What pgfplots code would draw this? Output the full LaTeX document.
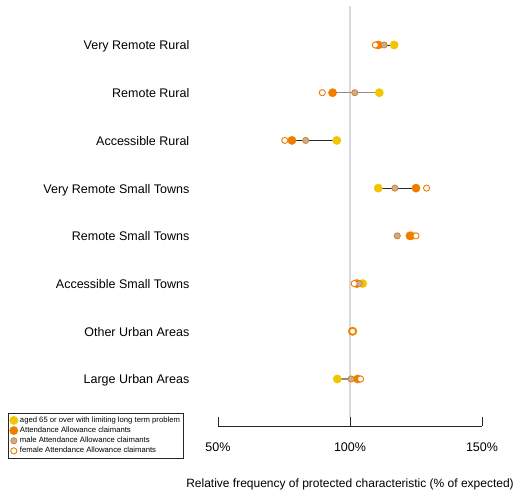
\documentclass[border=0pt]{standalone}
\usepackage{fontspec}
\setmainfont{Liberation Sans}
\usepackage{pgfplots}
\usepackage{pgfplotstable}
\pgfplotsset{compat=1.18}

\definecolor{cyellow}{HTML}{F2C500}
\definecolor{corange}{HTML}{F07D00}
\definecolor{cgray}{HTML}{B3B3B3}
\definecolor{refline}{HTML}{D9D9D9}

% row: 1 = Large Urban Areas ... 8 = Very Remote Rural
% yel = aged 65+ LLTP, ora = AA claimants, male / fem = AA claimants by sex
\pgfplotstableread{
row  yel    ora    male   fem
8    116.7  110.7  112.9  109.6
7    111.1  93.4   101.8  89.5
6    95.0   78.0   83.2   75.3
5    110.7  125.0  117.0  129.0
4    123.4  122.7  117.9  125.0
3    104.8  102.6  103.5  101.6
2    101.1  100.9  101.2  101.0
1    95.2   102.9  100.4  104.0
}\zones

\begin{document}
\begin{tikzpicture}
\useasboundingbox (0,0) rectangle (519bp,493bp);
\begin{axis}[
    at={(218bp,67bp)}, anchor=south west,
    scale only axis, width=264bp, height=420bp,
    xmin=50, xmax=150, ymin=0.015, ymax=8.817,
    axis x line*=bottom, axis y line*=left,
    y axis line style={draw=none},
    x axis line style={black!85, line width=0.8bp},
    font=\fontsize{12.5bp}{15bp}\selectfont,
    /pgf/number format/assume math mode=true,
    xtick={50,100,150}, xticklabels={50\%,100\%,150\%},
    tick align=inside, major tick length=9bp,
    xtick style={black!85, line width=0.8bp},
    ytick={1,...,8}, ytick style={draw=none},
    yticklabels={Large Urban Areas, Other Urban Areas, Accessible Small Towns,
        Remote Small Towns, Very Remote Small Towns, Accessible Rural,
        Remote Rural, Very Remote Rural},
    yticklabel style={inner sep=0pt, anchor=mid east, xshift=-28.5bp, yshift=-2.3bp},
    xticklabel style={inner sep=0pt, anchor=mid, yshift=-22.5bp},
    xlabel={Relative frequency of protected characteristic (\% of expected)},
    xlabel style={at={(axis description cs:0.5,0)}, anchor=mid, inner sep=0pt,
        yshift=-59bp, font=\fontsize{12bp}{14bp}\selectfont},
    clip=false,
    legend style={at={(-0.7955,0.031)}, anchor=north west, draw=black!85,
        line width=0.8bp, font=\fontsize{7.7bp}{9bp}\selectfont,
        inner xsep=1.2bp, inner ysep=1.5bp, row sep=-0.9bp,
        cells={anchor=west}},
    legend cell align=left,
    legend image code/.code={\draw[#1] plot coordinates {(0bp,0bp)};},
]

% reference line at 100%
\addplot[forget plot, refline, line width=1.6bp] coordinates {(100,0.205) (100,8.817)};

% connecting lines between the two main series
\addplot[forget plot, black!85, line width=0.9bp] coordinates {(116.7,8) (110.7,8)};
\addplot[forget plot, gray!90, line width=1.5bp] coordinates {(111.1,7) (93.4,7)};
\addplot[forget plot, black!85, line width=0.9bp] coordinates {(95.0,6) (78.0,6)};
\addplot[forget plot, black!85, line width=0.9bp] coordinates {(110.7,5) (125.0,5)};
\addplot[forget plot, black!85, line width=0.9bp] coordinates {(123.4,4) (122.7,4)};
\addplot[forget plot, black!85, line width=0.9bp] coordinates {(104.8,3) (102.6,3)};
\addplot[forget plot, black!85, line width=0.9bp] coordinates {(101.1,2) (100.9,2)};
\addplot[forget plot, gray!90, line width=1.5bp] coordinates {(95.2,1) (102.9,1)};

\addplot[only marks, mark=*, mark size=4.2bp, draw=cyellow, fill=cyellow, line width=0.3bp]
    table[x=yel, y=row] {\zones};
\addlegendentry{aged 65 or over with limiting long term problem}

\addplot[only marks, mark=*, mark size=4.2bp, draw=corange, fill=corange, line width=0.3bp]
    table[x=ora, y=row] {\zones};
\addlegendentry{Attendance Allowance claimants}

\addplot[only marks, mark=*, mark size=3.1bp, draw=corange, fill=cgray, line width=0.8bp]
    table[x=male, y=row] {\zones};
\addlegendentry{male Attendance Allowance claimants}

\addplot[only marks, mark=*, mark size=3.1bp, draw=corange, fill=white, line width=0.9bp]
    table[x=fem, y=row] {\zones};
\addlegendentry{female Attendance Allowance claimants}

\end{axis}
\end{tikzpicture}
\end{document}
